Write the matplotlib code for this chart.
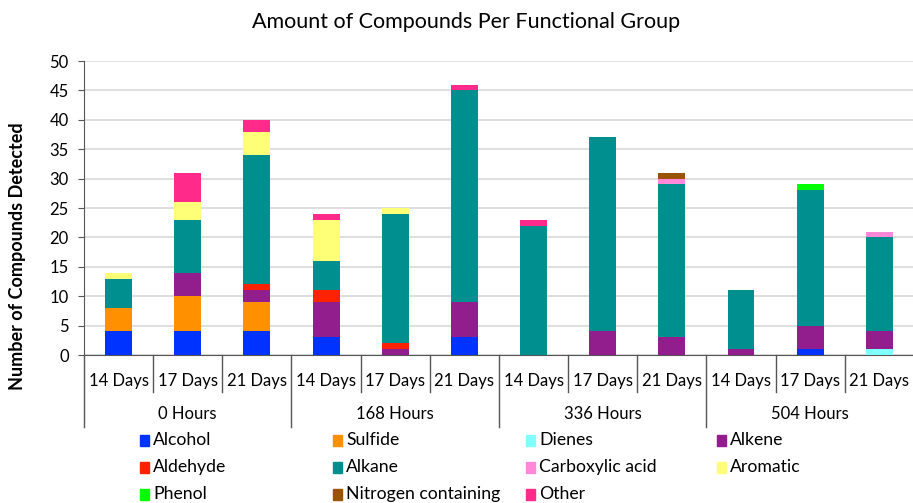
import matplotlib
matplotlib.use("Agg")
import matplotlib.pyplot as plt
from matplotlib.patches import Rectangle
import numpy as np

plt.rcParams["font.family"] = ["Lato", "DejaVu Sans"]

days = ["14 Days", "17 Days", "21 Days"] * 4
hours = ["0 Hours", "168 Hours", "336 Hours", "504 Hours"]

groups = ["Alcohol", "Sulfide", "Dienes", "Alkene", "Aldehyde", "Alkane",
          "Carboxylic acid", "Aromatic", "Phenol", "Nitrogen containing", "Other"]
colors = ["#0033ff", "#ff9000", "#80ffff", "#921e8e", "#ff2200", "#008f8f",
          "#ff88d8", "#ffff77", "#00ff00", "#9a5300", "#ff2a8a"]

# one value per bar: 0h(14,17,21), 168h(14,17,21), 336h(14,17,21), 504h(14,17,21)
alcohol    = [4, 4, 4, 3, 0, 3, 0, 0, 0, 0, 1, 0]
sulfide    = [4, 6, 5, 0, 0, 0, 0, 0, 0, 0, 0, 0]
dienes     = [0, 0, 0, 0, 0, 0, 0, 0, 0, 0, 0, 1]
alkene     = [0, 4, 2, 6, 1, 6, 0, 4, 3, 1, 4, 3]
aldehyde   = [0, 0, 1, 2, 1, 0, 0, 0, 0, 0, 0, 0]
alkane     = [5, 9, 22, 5, 22, 36, 22, 33, 26, 10, 23, 16]
carboxylic = [0, 0, 0, 0, 0, 0, 0, 0, 1, 0, 0, 1]
aromatic   = [1, 3, 4, 7, 1, 0, 0, 0, 0, 0, 0, 0]
phenol     = [0, 0, 0, 0, 0, 0, 0, 0, 0, 0, 1, 0]
nitrogen   = [0, 0, 0, 0, 0, 0, 0, 0, 1, 0, 0, 0]
other      = [0, 5, 2, 1, 0, 1, 1, 0, 0, 0, 0, 0]

series = [alcohol, sulfide, dienes, alkene, aldehyde, alkane,
          carboxylic, aromatic, phenol, nitrogen, other]

fig = plt.figure(figsize=(9.13, 5.03), dpi=100)
ax = fig.add_axes([0.092, 0.2942, 0.909, 0.5845])

x = np.arange(len(days))
bottom = np.zeros(len(days))
for name, vals, c in zip(groups, series, colors):
    ax.bar(x, vals, 0.39, bottom=bottom, color=c, label=name, zorder=3)
    bottom += np.array(vals)

ax.set_xlim(-0.5, 11.5)
ax.set_ylim(0, 50)
ax.set_yticks(range(0, 51, 5))
ax.yaxis.grid(True, color="#d9d9d9", linewidth=1.2, zorder=0)
ax.set_xticks([])
for s in ["top", "right"]:
    ax.spines[s].set_visible(False)
ax.spines["left"].set_color("#555555")
ax.spines["bottom"].set_color("#555555")
ax.tick_params(axis="y", labelsize=12, length=4.5, color="#555555", pad=6.5)

fig.text(466 / 913, 1 - 22 / 503, "Amount of Compounds Per Functional Group",
         ha="center", va="center", fontsize=15.5)
ax.set_ylabel("Number of Compounds Detected", fontsize=13, fontweight="bold")
ax.yaxis.set_label_coords(-0.070, 0.337)

# two-level category axis
tr = ax.get_xaxis_transform()
for i in range(13):
    xb = i - 0.5
    low = -0.245 if i % 3 == 0 else -0.126
    ax.plot([xb, xb], [0, low], color="#555555", lw=1, transform=tr, clip_on=False)
for i, d in enumerate(days):
    ax.text(i, -0.088, d, transform=tr, ha="center", va="center", fontsize=12)
for j, h in enumerate(hours):
    ax.text(j * 3 + 1, -0.2, h, transform=tr, ha="center", va="center", fontsize=12)

# legend, row-major in 4 columns
col_x = [153 / 913, 346 / 913, 539 / 913, 730 / 913]
row_y = [1 - 440 / 503, 1 - 467 / 503, 1 - 494 / 503]
for k, (name, c) in enumerate(zip(groups, colors)):
    cx = col_x[k % 4]
    cy = row_y[k // 4]
    fig.patches.append(Rectangle((cx - 13 / 913, cy - 5.5 / 503), 9 / 913, 11 / 503,
                                 transform=fig.transFigure, color=c))
    fig.text(cx, cy, name, ha="left", va="center", fontsize=12.7)

fig.savefig("out.png", dpi=100)
